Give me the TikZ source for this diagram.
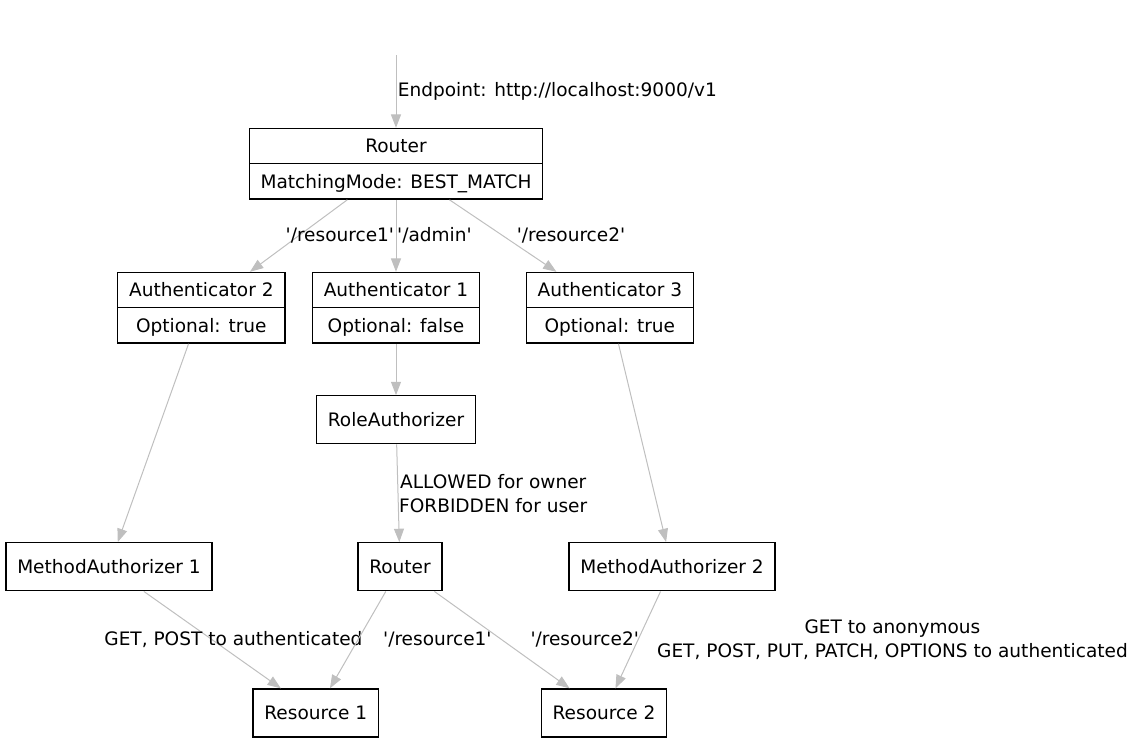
\documentclass[tikz,border=0pt]{standalone}
\usepackage{fontspec}
\setmainfont{DejaVu Sans}[Ligatures=TeXOff]
\usetikzlibrary{shapes.multipart, arrows.meta, positioning}
\tikzset{
    block/.style={
        rectangle,
        draw=black,
        line width=1pt,
        minimum height=36pt,
        inner xsep=8.5pt,
        font=\fontsize{13.9}{18}\selectfont
    },
    record/.style={
        rectangle split,
        rectangle split parts=2,
        draw=black,
        line width=1pt,
        inner xsep=8.5pt,
        inner ysep=0pt,
        font=\fontsize{13.9}{18}\selectfont
    },
    arrow/.style={
        line width=0.75pt,
        draw=black!25,
        -{Triangle[length=10pt,width=7.5pt]}
    },
    elabel/.style={
        rectangle,
        draw=none,
        inner sep=0pt,
        align=center,
        font=\fontsize{13.9}{18}\selectfont
    },
}
\newcommand{\rowstrut}{\rule[-7.75pt]{0pt}{25.5pt}}

\begin{document}
\begin{tikzpicture}[node distance=1cm, on grid]

\useasboundingbox (-297pt,122.85pt) rectangle (561pt,-435.15pt);

% Router (top)
\node[record] (router) {\rowstrut Router \nodepart{two} \rowstrut MatchingMode: BEST\_MATCH};
\coordinate[above=81.5pt of router] (entry);

% Authenticators
\node[record, below=108pt of router] (auth1) {\rowstrut Authenticator 1 \nodepart{two} \rowstrut Optional: false};
\node[record, left=146pt of auth1] (auth2) {\rowstrut Authenticator 2 \nodepart{two} \rowstrut Optional: true};
\node[record, right=160.4pt of auth1] (auth3) {\rowstrut Authenticator 3 \nodepart{two} \rowstrut Optional: true};

% RoleAuthorizer
\node[block, below=84pt of auth1] (role) {RoleAuthorizer};

% Router (inner)
\node[block, below right=110.2pt and 3pt of role] (subrouter) {Router};

% MethodAuthorizers
\node[block, left=218.25pt of subrouter] (method1) {MethodAuthorizer 1};
\node[block, right=204pt of subrouter] (method2) {MethodAuthorizer 2};

% Resources
\node[block, below left=109.7pt and 63.2pt of subrouter] (res1) {Resource 1};
\node[block, below right=109.7pt and 153pt of subrouter] (res2) {Resource 2};

% Arrows with labels
\draw[arrow] (entry) -- node[elabel, anchor=west, xshift=1pt] {Endpoint: http://localhost:9000/v1} (router);

\draw[arrow] (router) -- node[elabel, anchor=west, xshift=-10.1pt] {'/resource1'} (auth2);
\draw[arrow] (router) -- node[elabel, anchor=west, xshift=0.5pt] {'/admin'} (auth1);
\draw[arrow] (router) -- node[elabel, anchor=west, xshift=10pt] {'/resource2'} (auth3);

\draw[arrow] (auth2) -- (method1);
\draw[arrow] (auth1) -- (role);
\draw[arrow] (auth3) -- (method2);

\draw[arrow] (role) -- node[elabel, anchor=west, xshift=0.5pt] {ALLOWED for owner\\FORBIDDEN for user} (subrouter);

\draw[arrow] (method1) -- node[elabel, xshift=15.8pt] {GET, POST to authenticated} (res1);
\draw[arrow] (subrouter) -- node[elabel, anchor=west, xshift=18.6pt] {'/resource1'} (res1);
\draw[arrow] (subrouter) -- node[elabel, anchor=west, xshift=21pt] {'/resource2'} (res2);
\draw[arrow] (method2) -- node[elabel, anchor=west, xshift=14pt] {GET to anonymous\\GET, POST, PUT, PATCH, OPTIONS to authenticated} (res2);

\end{tikzpicture}
\end{document}
